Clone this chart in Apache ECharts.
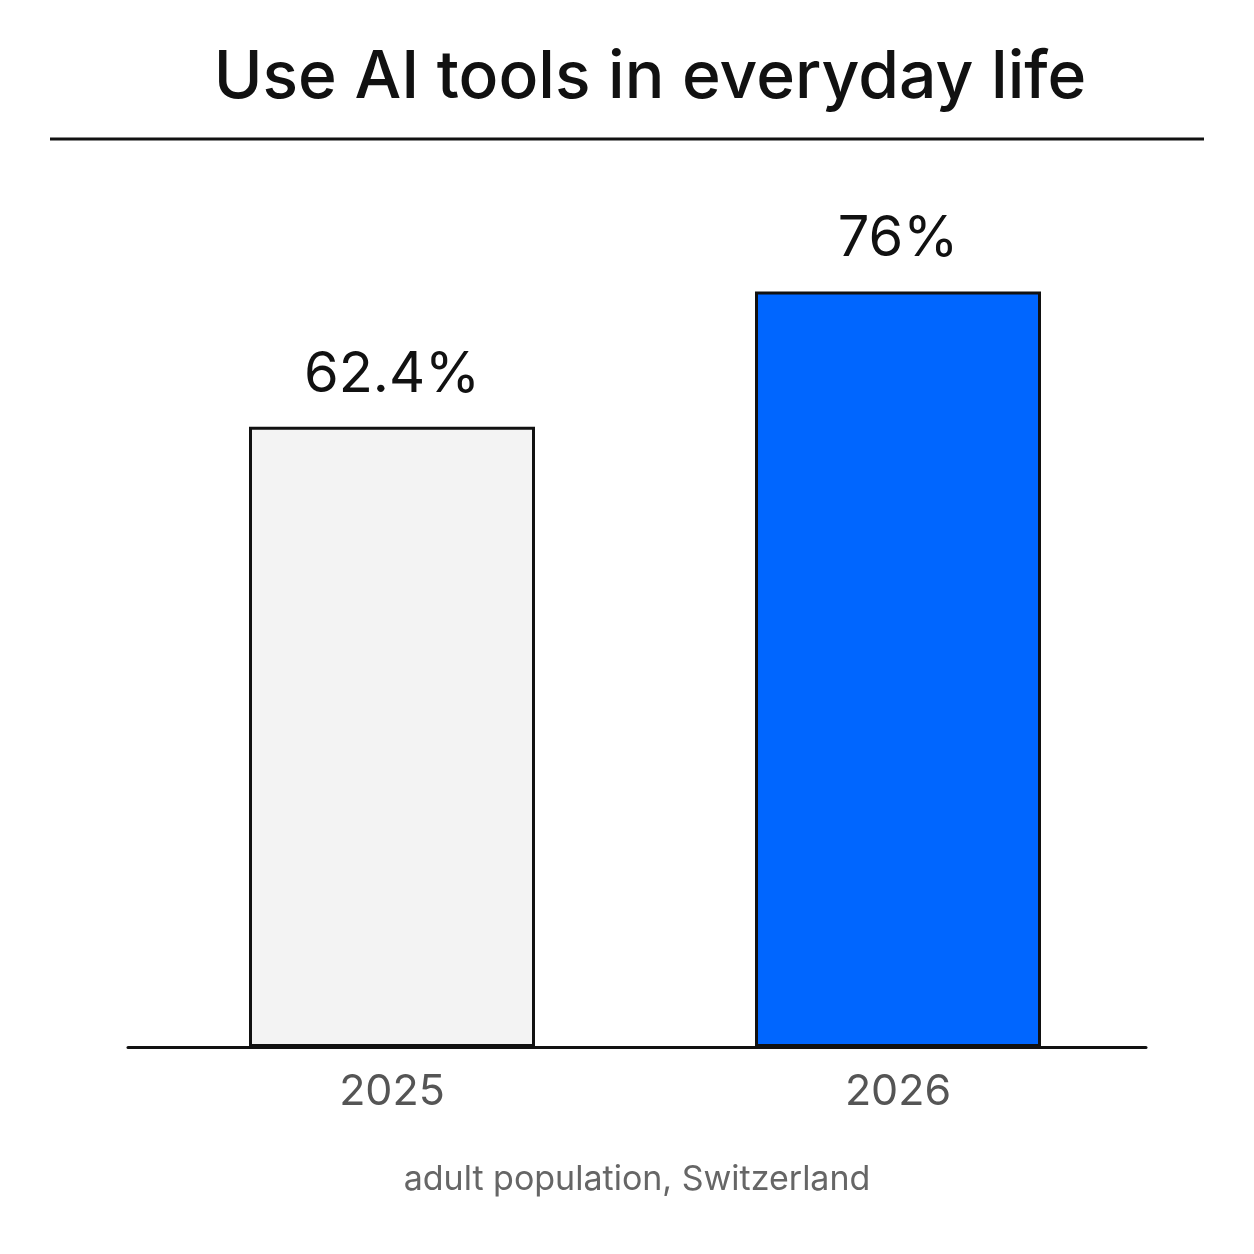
<!DOCTYPE html>
<html>
<head>
<meta charset="utf-8">
<script src="https://cdn.jsdelivr.net/npm/echarts@6/dist/echarts.min.js"></script>
<style>
  html, body { margin: 0; padding: 0; background: #fff; }
  #chart { width: 1254px; height: 1254px; }
</style>
</head>
<body>
<div id="chart"></div>
<script>
const years = ["2025", "2026"];
const shares = [62.4, 76];
const barColors = ["#f3f3f3", "#0066ff"];

const chart = echarts.init(document.getElementById("chart"));

chart.setOption({
  backgroundColor: "#fff",
  animation: false,
  textStyle: { fontFamily: "Inter" },
  title: [
    {
      text: "Use AI tools in everyday life",
      left: 645,
      top: 40,
      textAlign: "center",
      textStyle: { fontSize: 66, fontWeight: 500, color: "#111", fontFamily: "Inter" }
    },
    {
      text: "adult population, Switzerland",
      left: 632,
      top: 1158,
      textAlign: "center",
      textStyle: { fontSize: 34, fontWeight: 400, color: "#666", fontFamily: "Inter" }
    }
  ],
  graphic: [{
    type: "line",
    shape: { x1: 50, y1: 139, x2: 1204, y2: 139 },
    style: { stroke: "#111", lineWidth: 3 }
  }],
  // grid 0 holds the bars, grid 1 only draws the longer baseline
  grid: [
    { left: 139, right: 103, top: 53, bottom: 207 },
    { left: 128, right: 108, top: 53, bottom: 207 }
  ],
  xAxis: [
    {
      type: "category",
      gridIndex: 0,
      data: years,
      axisLine: { show: false },
      axisTick: { show: false },
      axisLabel: { fontSize: 43, color: "#555", margin: 24, fontFamily: "Inter" }
    },
    {
      type: "category",
      gridIndex: 1,
      data: years,
      axisLine: { lineStyle: { color: "#111", width: 3 } },
      axisTick: { show: false },
      axisLabel: { show: false }
    }
  ],
  yAxis: [
    { type: "value", gridIndex: 0, min: 0, max: 100, show: false },
    { type: "value", gridIndex: 1, min: 0, max: 100, show: false }
  ],
  series: [{
    type: "bar",
    xAxisIndex: 0,
    yAxisIndex: 0,
    barWidth: 286,
    z: 3,
    data: shares.map((v, i) => ({
      value: v,
      itemStyle: { color: barColors[i] }
    })),
    itemStyle: { borderColor: "#111", borderWidth: 3 },
    label: {
      show: true,
      position: "top",
      distance: 24,
      formatter: "{c}%",
      fontSize: 56,
      color: "#111",
      fontFamily: "Inter"
    }
  }]
});
</script>
</body>
</html>
